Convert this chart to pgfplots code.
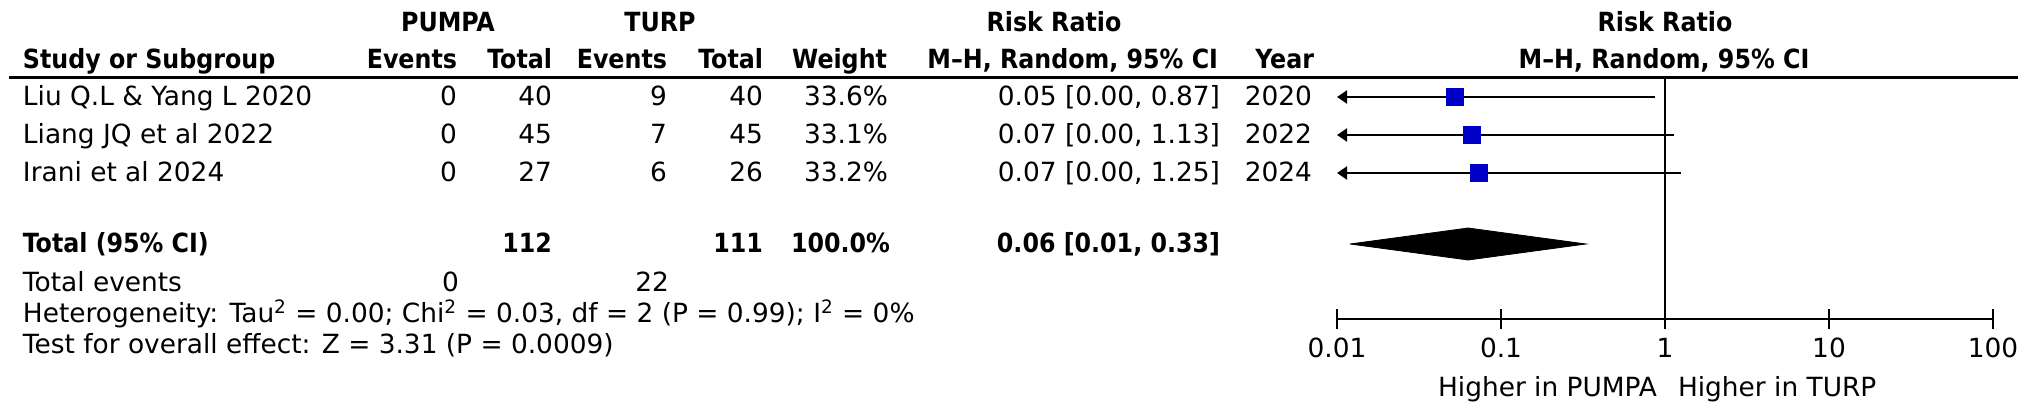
\documentclass[border=0pt]{standalone}
\usepackage{pgfplots}
\pgfplotsset{compat=1.18}
\usepackage{fontspec}
\setmainfont{DejaVu Sans}[BoldFont={DejaVu Sans Condensed Bold}]
\usetikzlibrary{arrows.meta}
\definecolor{rmblue}{RGB}{0,0,200}
\begin{document}
\begin{tikzpicture}[x=0.5pt,y=-0.5pt,
  every node/.style={font=\fontsize{13.2}{15}\selectfont, inner sep=0pt, outer sep=0pt}]
\path[use as bounding box] (0,0) rectangle (2031,417);
% header line 1
\node[anchor=base] at (448,32) {\textbf{PUMPA}};
\node[anchor=base] at (660,32) {\textbf{TURP}};
\node[anchor=base] at (1054,32) {\textbf{Risk Ratio}};
\node[anchor=base] at (1665,32) {\textbf{Risk Ratio}};
% header line 2
\node[anchor=base west] at (23,69) {\textbf{Study or Subgroup}};
\node[anchor=base east] at (457,69) {\textbf{Events}};
\node[anchor=base east] at (552,69) {\textbf{Total}};
\node[anchor=base east] at (667,69) {\textbf{Events}};
\node[anchor=base east] at (763,69) {\textbf{Total}};
\node[anchor=base east] at (887,69) {\textbf{Weight}};
\node[anchor=base east] at (1218,69) {\textbf{M–H, Random, 95\% CI}};
\node[anchor=base east] at (1314,69) {\textbf{Year}};
\node[anchor=base] at (1664,69) {\textbf{M–H, Random, 95\% CI}};
\draw[line width=1.5pt] (9,78) -- (2018,78);
% rows
\foreach \y/\name/\ea/\ta/\eb/\tb/\w/\ci/\yr in {
  106/Liu Q.L \& Yang L 2020/0/40/9/40/33.6\%/{0.05 [0.00, 0.87]}/2020,
  144/Liang JQ et al 2022/0/45/7/45/33.1\%/{0.07 [0.00, 1.13]}/2022,
  182/Irani et al 2024/0/27/6/26/33.2\%/{0.07 [0.00, 1.25]}/2024}{
  \node[anchor=base west] at (23,\y) {\name};
  \node[anchor=base east] at (457,\y) {\ea};
  \node[anchor=base east] at (552,\y) {\ta};
  \node[anchor=base east] at (667,\y) {\eb};
  \node[anchor=base east] at (763,\y) {\tb};
  \node[anchor=base east] at (888,\y) {\w};
  \node[anchor=base east] at (1220,\y) {\ci};
  \node[anchor=base east] at (1312,\y) {\yr};
}
% total row
\node[anchor=base west] at (23,252) {\textbf{Total (95\% CI)}};
\node[anchor=base east] at (552,252) {\textbf{112}};
\node[anchor=base east] at (763,252) {\textbf{111}};
\node[anchor=base east] at (890,252) {\textbf{100.0\%}};
\node[anchor=base east] at (1220,252) {\textbf{0.06 [0.01, 0.33]}};
\node[anchor=base west] at (23,291) {Total events};
\node[anchor=base east] at (459,291) {0};
\node[anchor=base east] at (669,291) {22};
\node[anchor=base west] at (23,322) {Heterogeneity: Tau\textsuperscript{2} = 0.00; Chi\textsuperscript{2} = 0.03, df = 2 (P = 0.99); I\textsuperscript{2} = 0\%};
\node[anchor=base west] at (23,353) {Test for overall effect: Z = 3.31 (P = 0.0009)};
% forest plot
\begin{axis}[
  at={(668.5pt,-159.5pt)}, anchor=south west,
  scale only axis, width=328pt, height=120.5pt,
  xmode=log, xmin=0.01, xmax=100, ymin=-319, ymax=-78,
  axis x line=bottom, axis y line=none,
  axis line style={-, line width=1.2pt},
  xtick={0.01,0.1,1,10,100}, xticklabels={},
  major tick length=10pt, minor tick length=0pt, tick align=center,
  tick style={line width=1.2pt, black},
  clip=false,
]
\addplot[line width=1pt, black] coordinates {(1,-78) (1,-319)};
\addplot[line width=1pt, black, {Triangle[length=5pt,width=6.5pt]}-] coordinates {(0.01,-97) (0.87,-97)};
\addplot[line width=1pt, black, {Triangle[length=5pt,width=6.5pt]}-] coordinates {(0.01,-135) (1.13,-135)};
\addplot[line width=1pt, black, {Triangle[length=5pt,width=6.5pt]}-] coordinates {(0.01,-173) (1.25,-173)};
\addplot[only marks, mark=square*, mark size=4.2pt, color=rmblue] coordinates {(0.0524,-97) (0.0666,-135) (0.0734,-173)};
\addplot[fill=black, draw=black] coordinates {(0.012,-244) (0.063,-228) (0.33,-244) (0.063,-260) (0.012,-244)};
\node[anchor=base] at (axis cs:0.01,-357) {0.01};
\node[anchor=base] at (axis cs:0.1,-357) {0.1};
\node[anchor=base] at (axis cs:1,-357) {1};
\node[anchor=base] at (axis cs:10,-357) {10};
\node[anchor=base] at (axis cs:100,-357) {100};
\end{axis}
\node[anchor=base east] at (1657,396) {Higher in PUMPA};
\node[anchor=base west] at (1678,396) {Higher in TURP};
\end{tikzpicture}
\end{document}
